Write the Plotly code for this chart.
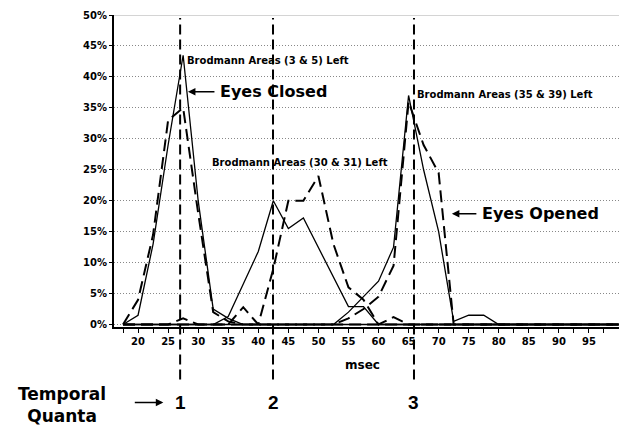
import plotly.graph_objects as go

# x positions (msec), sampled every 2.5 ms
msec = [17.5 + 2.5 * i for i in range(34)]

def pad(vals):
    return vals + [0] * (len(msec) - len(vals))

# Brodmann Areas (3 & 5) Left
ba35_solid = pad([0, 1.5, 13, 29, 43.5, 20, 2.5, 1, 0])
ba35_dash = pad([0, 4, 14.5, 33, 35, 18, 2, 0.5, 0])
# Brodmann Areas (30 & 31) Left
ba3031_solid = pad([0, 0, 0, 0, 0, 0, 0, 1.3, 6.5, 11.8, 20, 15.5, 17.2, 12.5, 7.7, 2.9, 2.9, 0])
ba3031_dash = pad([0, 0, 0, 0, 1, 0, 0, 0, 2.8, 0, 9, 20, 20, 24, 13, 6, 4, 0, 1.2, 0])
# Brodmann Areas (35 & 39) Left
ba3539_solid = pad([0, 0, 0, 0, 0, 0, 0, 0, 0, 0, 0, 0, 0, 0, 0, 2, 4.5, 7, 12.5, 37, 25, 15, 0.5, 1.5, 1.5, 0])
ba3539_dash = pad([0, 0, 0, 0, 0, 0, 0, 0, 0, 0, 0, 0, 0, 0, 0, 1, 2.5, 4.5, 9.5, 36, 29, 24.5, 0])

y_ticks = [0, 5, 10, 15, 20, 25, 30, 35, 40, 45, 50]
x_label_ticks = [20, 25, 30, 35, 40, 45, 50, 55, 60, 65, 70, 75, 80, 85, 90, 95]
quanta_x = [27.0, 42.45, 65.9]
quanta_labels = ["1", "2", "3"]

FONT = "DejaVu Sans, sans-serif"
FONT2 = "Arial, Liberation Sans, sans-serif"

fig = go.Figure()
solid = [ba35_solid, ba3031_solid, ba3539_solid]
dashed = [ba35_dash, ba3031_dash, ba3539_dash]
for s in dashed:
    fig.add_trace(go.Scatter(x=msec, y=s, mode="lines",
                             line=dict(color="black", width=2, dash="12px,6px"),
                             showlegend=False, hoverinfo="skip"))
for s in solid:
    fig.add_trace(go.Scatter(x=msec, y=s, mode="lines",
                             line=dict(color="black", width=1.3),
                             showlegend=False, hoverinfo="skip"))

# vertical temporal quanta lines
for qx in quanta_x:
    fig.add_shape(type="line", xref="x", yref="paper", x0=qx, x1=qx, y0=-0.168, y1=0.99,
                  line=dict(color="black", width=2, dash="10px,5px"))
# top border
fig.add_shape(type="line", xref="paper", yref="y", x0=0, x1=1, y0=50, y1=50,
              line=dict(color="#aaaaaa", width=1))

ann = []
small = dict(family=FONT, size=10, color="black")
big = dict(family=FONT, size=16, color="black")
ann.append(dict(x=27.8, y=42.7, xref="x", yref="y", text="<b>Brodmann Areas (3 & 5) Left</b>",
                showarrow=False, xanchor="left", yanchor="middle", font=small))
ann.append(dict(x=32.0, y=26.1, xref="x", yref="y", text="<b>Brodmann Areas (30 & 31) Left</b>",
                showarrow=False, xanchor="left", yanchor="middle", font=small))
ann.append(dict(x=66.1, y=37.1, xref="x", yref="y", text="<b>Brodmann Areas (35 & 39) Left</b>",
                showarrow=False, xanchor="left", yanchor="middle", font=small))
ann.append(dict(x=33.3, y=37.6, xref="x", yref="y", text="<b>Eyes Closed</b>",
                showarrow=False, xanchor="left", yanchor="middle", font=big))
ann.append(dict(x=28.3, y=37.6, xref="x", yref="y", text="", showarrow=True,
                ax=28, ay=0, arrowhead=2, arrowsize=1, arrowwidth=1.5, arrowcolor="black"))
ann.append(dict(x=76.8, y=17.9, xref="x", yref="y", text="<b>Eyes Opened</b>",
                showarrow=False, xanchor="left", yanchor="middle", font=big))
ann.append(dict(x=72.2, y=17.9, xref="x", yref="y", text="", showarrow=True,
                ax=26, ay=0, arrowhead=2, arrowsize=1, arrowwidth=1.5, arrowcolor="black"))
ann.append(dict(x=57.4, y=-0.123, xref="x", yref="paper", text="<b>msec</b>",
                showarrow=False, xanchor="center", yanchor="middle",
                font=dict(family=FONT, size=12, color="black")))
ann.append(dict(x=-0.103, y=-0.251, xref="paper", yref="paper", text="<b>Temporal<br>Quanta</b>",
                showarrow=False, xanchor="center", yanchor="middle",
                font=dict(family=FONT, size=17, color="black")))
for qx, ql in zip(quanta_x, quanta_labels):
    ann.append(dict(x=qx, y=-0.2416, xref="x", yref="paper", text="<b>" + ql + "</b>",
                    showarrow=False, xanchor="center", yanchor="middle",
                    font=dict(family=FONT2, size=19, color="black")))
ann.append(dict(x=24.2, y=-0.2416, xref="x", yref="paper", text="", showarrow=True,
                ax=-30, ay=0, arrowhead=2, arrowsize=1, arrowwidth=1.5, arrowcolor="black"))

x_tick_vals = [17.5 + 2.5 * i for i in range(33)]
x_tick_text = [("<b>%d</b>" % int(round(v)) if abs(v - round(v)) < 1e-9 and int(round(v)) in x_label_ticks else "")
               for v in x_tick_vals]

fig.update_layout(
    width=619, height=432,
    margin=dict(l=114, r=0, t=15, b=105),
    paper_bgcolor="white", plot_bgcolor="white",
    annotations=ann,
    font=dict(family=FONT, color="black"),
    xaxis=dict(range=[16, 100], tickmode="array",
               tickvals=x_tick_vals, ticktext=x_tick_text,
               ticks="outside", ticklen=4, tickwidth=1, tickcolor="black",
               showgrid=False, zeroline=False, showline=True, linecolor="black", linewidth=2,
               tickfont=dict(family=FONT, size=10, color="black")),
    yaxis=dict(range=[-0.4, 50], tickvals=y_ticks,
               ticktext=["<b>%d%%</b>" % v for v in y_ticks],
               ticks="outside", ticklen=3, tickcolor="black",
               showgrid=True, gridcolor="#888888", griddash="1px,2px", gridwidth=1,
               zeroline=False, showline=True, linecolor="black", linewidth=2,
               tickfont=dict(family=FONT, size=10, color="black")),
)

fig.write_html("out.html")
